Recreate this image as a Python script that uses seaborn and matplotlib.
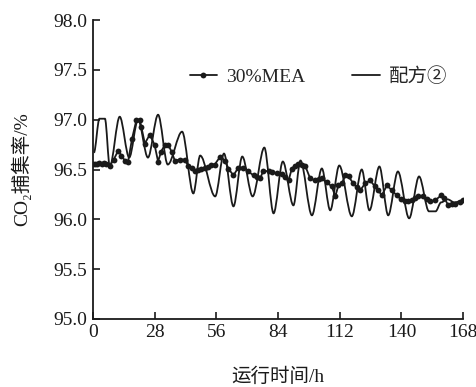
import numpy as np
import pandas as pd
import matplotlib
matplotlib.use("Agg")
import matplotlib.pyplot as plt
from matplotlib.path import Path
from matplotlib.patches import PathPatch
import seaborn as sns

# 30%MEA series (hours, capture rate %)
mea_h = [0, 1, 2, 3, 4, 5, 6, 7.7, 9.5, 11.5, 13, 14.5, 16, 17.8, 19.8, 21.3, 22, 23.6,
         25.8, 28, 29.6, 31, 32.7, 34.2, 35.7, 37.2, 39.5, 41.7, 43.2, 44.8, 46.3, 47.8,
         49.3, 50.8, 52.3, 53.8, 55.3, 57.8, 60, 61.5, 63.8, 66, 68.3, 70.6, 72.9, 74.5,
         75.9, 77.4, 79.7, 81.5, 83.5, 85.8, 87.3, 88.8, 90.3, 91.8, 93.3, 94.8, 96.3,
         98.6, 100.9, 102.4, 103.9, 106.2, 108.4, 110, 111.4, 113, 114.5, 116, 118.2,
         119.7, 121.3, 123.5, 125.8, 128, 129.5, 131.1, 133.4, 135.7, 137.9, 139.8,
         141.7, 143.2, 144.7, 146.2, 147.7, 150, 151.5, 153, 155.3, 158, 159.5, 161.3,
         163, 164.4, 166.6, 168]
mea_v = [96.56, 96.56, 96.56, 96.57, 96.56, 96.57, 96.56, 96.54, 96.60, 96.69, 96.64,
         96.59, 96.58, 96.81, 97.00, 97.00, 96.93, 96.76, 96.85, 96.75, 96.58, 96.68,
         96.75, 96.75, 96.68, 96.59, 96.60, 96.60, 96.54, 96.52, 96.48, 96.50, 96.51,
         96.52, 96.53, 96.55, 96.55, 96.63, 96.59, 96.51, 96.44, 96.52, 96.52, 96.48,
         96.44, 96.42, 96.41, 96.49, 96.48, 96.47, 96.46, 96.45, 96.42, 96.39, 96.51,
         96.54, 96.56, 96.55, 96.54, 96.41, 96.39, 96.40, 96.41, 96.37, 96.33, 96.23,
         96.34, 96.36, 96.44, 96.43, 96.36, 96.32, 96.29, 96.36, 96.39, 96.33, 96.29,
         96.24, 96.34, 96.29, 96.24, 96.20, 96.18, 96.18, 96.19, 96.21, 96.23, 96.23,
         96.20, 96.18, 96.19, 96.24, 96.21, 96.14, 96.15, 96.15, 96.17, 96.19]

# Formula 2 series (turning points of the oscillating curve)
f2_h = [0.5, 3, 5.5, 7.7, 12.2, 16.5, 20.5, 25, 29.6, 34, 40.5, 45.6, 48.7, 55.5, 59.5,
        63.8, 67.8, 72.5, 77.8, 82, 86.2, 91, 94.2, 99.4, 103.9, 107.7, 111.8, 117.5,
        122, 125.5, 130, 134, 138.4, 143.5, 148, 152.5, 155.5, 158, 161, 164, 168]
f2_v = [96.67, 97.01, 97.01, 96.53, 97.03, 96.62, 97.00, 96.62, 97.05, 96.55, 96.88,
        96.26, 96.64, 96.23, 96.66, 96.13, 96.63, 96.23, 96.72, 96.06, 96.58, 96.14,
        96.59, 96.04, 96.51, 96.09, 96.54, 96.03, 96.50, 96.09, 96.53, 96.04, 96.48,
        96.01, 96.43, 96.08, 96.08, 96.17, 96.20, 96.17, 96.19]

x_ticks = [0, 28, 56, 84, 112, 140, 168]
y_ticks = [95.0, 95.5, 96.0, 96.5, 97.0, 97.5, 98.0]
label_mea = "30%MEA"
label_f2 = "配方②"

sns.set_theme(style="ticks")
plt.rcParams['font.family'] = ['Liberation Serif', 'Noto Sans CJK SC', 'DejaVu Sans']

INK = "#1a1a1a"
fig = plt.figure(figsize=(4.76, 3.87), dpi=100)
ax = fig.add_axes([0.195, 0.176, 0.778, 0.772])

df_mea = pd.DataFrame({"h": mea_h, "v": mea_v})
df_f2 = pd.DataFrame({"h": f2_h, "v": f2_v})

sns.lineplot(data=df_mea, x="h", y="v", ax=ax, color=INK, lw=1.3,
             marker="o", markersize=4.2, markeredgewidth=0, label=label_mea,
             estimator=None)
sns.lineplot(data=df_f2, x="h", y="v", ax=ax, color=INK, lw=1.3,
             label=label_f2, estimator=None)

ax.set_xlim(0, 168)
ax.set_ylim(95.0, 98.0)
ax.set_xticks(x_ticks)
ax.set_xticklabels([str(t) for t in x_ticks])
ax.set_yticks(y_ticks)
ax.set_yticklabels([f"{t:.1f}" for t in y_ticks])
ax.tick_params(direction="in", length=5, width=1.2, labelsize=14, colors=INK, pad=4)
for s in ["top", "right"]:
    ax.spines[s].set_visible(False)
for s in ["left", "bottom"]:
    ax.spines[s].set_linewidth(1.3)
    ax.spines[s].set_color(INK)

ax.set_xlabel("运行时间/h", fontsize=14, labelpad=19, color=INK)
ax.set_ylabel("CO₂捕集率/%", fontsize=14, labelpad=16, color=INK)

leg = ax.legend(loc="center", bbox_to_anchor=(0.61, 0.812), ncol=2, frameon=False,
                fontsize=14, handlelength=1.4, handletextpad=0.5, columnspacing=2.4,
                numpoints=1)

# Render the formula-2 line as a smooth curve through its turning points
f2_line = ax.lines[1]
xs, ys = f2_line.get_xdata(), f2_line.get_ydata()
verts = [(xs[0], ys[0])]
codes = [Path.MOVETO]
for i in range(len(xs) - 1):
    dx = xs[i + 1] - xs[i]
    verts += [(xs[i] + dx * 0.33, ys[i]), (xs[i + 1] - dx * 0.33, ys[i + 1]),
              (xs[i + 1], ys[i + 1])]
    codes += [Path.CURVE4] * 3
ax.add_patch(PathPatch(Path(verts, codes), facecolor="none", edgecolor=INK,
                       lw=1.3, transform=ax.transData))
f2_line.set_visible(False)

fig.savefig("out.png", dpi=100)
